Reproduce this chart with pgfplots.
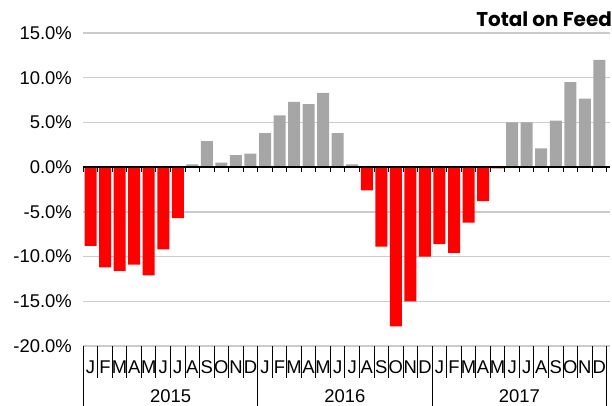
\documentclass[border=0pt]{standalone}
\usepackage{fontspec}
\setmainfont{Liberation Sans}
\newfontfamily\titlefont{Poppins}
\usepackage{pgfplots}
\pgfplotsset{compat=1.18}
\usetikzlibrary{calc}
\definecolor{negred}{RGB}{255,0,0}
\definecolor{posgray}{RGB}{166,166,166}
\definecolor{gridgray}{RGB}{204,204,204}
\begin{document}
\begin{tikzpicture}
\begin{axis}[name=ax, scale only axis, width=526.7bp, height=313bp,
  xmin=-0.5, xmax=35.73, ymin=-20, ymax=15,
  ytick={-20,-15,...,15},
  axis line style={draw=none},
  ymajorgrids, major grid style={gridgray, line width=1.3bp},
  ytick style={draw=none},
  /pgf/number format/assume math mode=true,
  yticklabel={\pgfmathprintnumber[fixed,fixed zerofill,precision=1]{\tick}\%},
  yticklabel style={font=\fontsize{18.5}{20}\selectfont, xshift=-8bp},
  xtick={0,...,35},
  xticklabels={J,F,M,A,M,J,J,A,S,O,N,D,J,F,M,A,M,J,J,A,S,O,N,D,J,F,M,A,M,J,J,A,S,O,N,D},
  xticklabel style={font=\fontsize{18.5}{20}\selectfont, anchor=base, yshift=-27bp, inner sep=0pt},
  minor xtick={-0.5,0.5,...,35.5},
  major tick length=0pt, minor tick length=32bp,
  tick align=outside, xtick pos=left,
  xtick style={draw=black, line width=1bp},
  extra x ticks={-0.5,11.5,23.5,35.5}, extra x tick labels={},
  extra x tick style={major tick length=60bp, xtick style={draw=black, line width=1bp}},
  clip=false,
]
\addplot[ybar, bar width=12bp, fill=negred, draw=none] coordinates {
 (0,-8.8) (1,-11.2) (2,-11.6) (3,-10.9) (4,-12.1) (5,-9.2) (6,-5.7)
 (19,-2.6) (20,-8.9) (21,-17.8) (22,-15.0) (23,-10.0)
 (24,-8.6) (25,-9.6) (26,-6.2) (27,-3.8) (28,-0.15)};
\addplot[ybar, bar width=12bp, fill=posgray, draw=none] coordinates {
 (7,0.3) (8,2.9) (9,0.5) (10,1.35) (11,1.5)
 (12,3.8) (13,5.8) (14,7.3) (15,7.05) (16,8.3) (17,3.8) (18,0.3)
 (29,5.0) (30,5.0) (31,2.1) (32,5.2) (33,9.5) (34,7.65) (35,12.0)};
\draw[black, line width=1.3bp] (axis cs:-0.5,0) -- (axis cs:35.73,0);
\pgfplotsinvokeforeach{-0.5,0.5,1.5,2.5,3.5,4.5,5.5,6.5,7.5,8.5,9.5,10.5,11.5,12.5,13.5,14.5,15.5,16.5,17.5,18.5,19.5,20.5,21.5,22.5,23.5,24.5,25.5,26.5,27.5,28.5,29.5,30.5,31.5,32.5,33.5,34.5,35.5}{
  \draw[black, line width=1bp] (axis cs:#1,0) -- ([yshift=-5bp]axis cs:#1,0);
}
\node[anchor=base, font=\fontsize{18.5}{20}\selectfont] at ([yshift=-56.5bp]axis cs:5.5,-20) {2015};
\node[anchor=base, font=\fontsize{18.5}{20}\selectfont] at ([yshift=-56.5bp]axis cs:17.5,-20) {2016};
\node[anchor=base, font=\fontsize{18.5}{20}\selectfont] at ([yshift=-56.5bp]axis cs:29.5,-20) {2017};
\end{axis}
\node[anchor=base east, inner sep=0pt, font=\titlefont\bfseries\fontsize{20}{22}\selectfont] at ($(ax.north east)+(2bp,6.3bp)$) {Total on Feed};
\pgfresetboundingbox
\path ($(ax.south west)+(-83.3bp,-60bp)$) rectangle ($(ax.north east)+(2bp,33bp)$);
\end{tikzpicture}
\end{document}
